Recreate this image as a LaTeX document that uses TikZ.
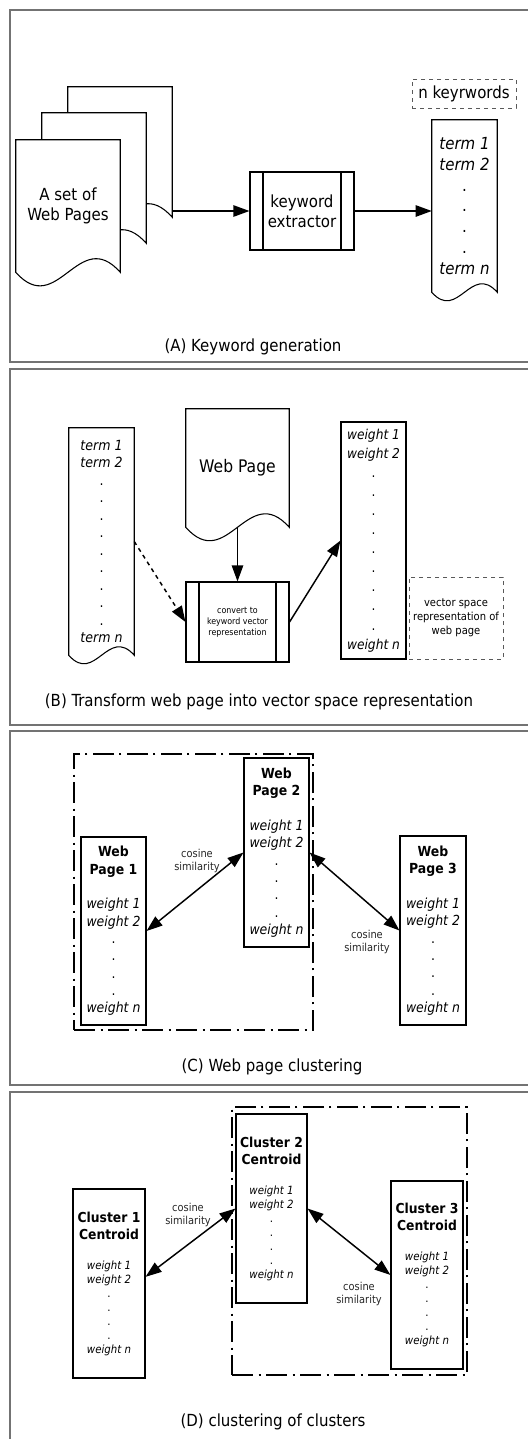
\documentclass[tikz,border=0pt]{standalone}
\usepackage{fontspec}
\setmainfont{DejaVu Sans Condensed}[BoldFont={DejaVu Sans Condensed Bold}, ItalicFont={DejaVu Sans Condensed Oblique}, BoldItalicFont={DejaVu Sans Condensed Bold Oblique}]
\usetikzlibrary{arrows.meta, calc, backgrounds}
\newcommand{\titlefont}{\fontsize{10.3}{12}\selectfont\bfseries}
% outline of a page with a wavy lower edge, drawn round a named node
\newcommand{\pagewave}[1]{%
  \draw[pageline] let \p1=(#1.south west), \p2=(#1.south east), \n1={0.45*(\x2-\x1)} in
    (#1.north west) -- (#1.north east) -- (\p2)
    .. controls ({\x2-0.4*(\x2-\x1)},{\y2+\n1*1pt}) and ({\x1+0.4*(\x2-\x1)},{\y1-\n1*1pt}) .. (\p1) -- cycle;}
\tikzset{
  panel/.style   ={draw=black!55, line width=1.2pt},
  pageline/.style={draw, fill=white, line width=0.8pt},
  pg/.style      ={inner sep=0pt, align=center},
  proc/.style    ={draw, line width=0.8pt, inner sep=0pt, align=center,
                   path picture={\draw[line width=0.8pt]
                     ([xshift=9.75pt]path picture bounding box.north west) -- ([xshift=9.75pt]path picture bounding box.south west)
                     ([xshift=-9.75pt]path picture bounding box.north east) -- ([xshift=-9.75pt]path picture bounding box.south east);}},
  vbox/.style    ={draw, line width=0.8pt, inner sep=0pt, align=center},
  note/.style    ={draw=black!65, dashed, line width=0.7pt, inner sep=0pt, align=center},
  grp/.style     ={draw, line width=1.1pt, dash pattern=on 16pt off 4pt on 1.5pt off 4pt},
  arr/.style     ={-{Triangle[length=12pt,width=8.5pt]}, line width=1.1pt},
  darr/.style    ={{Triangle[length=12pt,width=8.5pt]}-{Triangle[length=12pt,width=8.5pt]}, line width=1.1pt},
  capt/.style    ={font=\fontsize{12.5}{15}\selectfont},
  sim/.style     ={font=\fontsize{8.2}{9.8}\selectfont, align=center, text=black!85},
}

\begin{document}
\begin{tikzpicture}[x=0.75pt, y=-0.75pt]
  \useasboundingbox (0,0) rectangle (528,1439);
  % panel frames, open to the right
  \draw[panel] (528,10) -- (10,10) -- (10,362) -- (528,362);
  \draw[panel] (528,369) -- (10,369) -- (10,725) -- (528,725);
  \draw[panel] (528,731) -- (10,731) -- (10,1085) -- (528,1085);
  \draw[panel] (528,1092) -- (10,1092) -- (10,1445);

  % (A) keyword generation
  \node[pg, minimum width=78pt, minimum height=97.5pt] (pageC) at (120,152) {};
  \node[pg, minimum width=78pt, minimum height=97.5pt] (pageB) at (94,178) {};
  \node[pg, minimum width=78pt, minimum height=99pt, font=\fontsize{12.5}{15}\selectfont] (pageA) at (68,206) {A set of\\Web Pages};
  \node[proc, minimum width=78pt, minimum height=58.5pt, font=\fontsize{12.5}{15}\selectfont] (extractor) at (302,211) {keyword\\extractor};
  \node[pg, minimum width=48.75pt, minimum height=129pt, font=\fontsize{12.5}{15.6}\selectfont] (keyterms) at (464.5,206)
    {\textit{term 1}\\\textit{term 2}\\.\\.\\.\\.\\\textit{term n}};
  \node[note, minimum width=78pt, minimum height=21.75pt, font=\fontsize{12.5}{15}\selectfont] (nkw) at (464,93.5) {n keyrwords};
  \node[capt] (captA) at (253,347) {(A) Keyword generation};
  \draw[arr] (pageC.east |- extractor.west) -- (extractor.west);
  \draw[arr] (extractor.east) -- (keyterms.west |- extractor.east);

  % (B) vector space representation
  \node[pg, minimum width=48.75pt, minimum height=170.25pt, font=\fontsize{10.5}{13.1}\selectfont] (termsB) at (101.5,541.5)
    {\textit{term 1}\\\textit{term 2}\\.\\.\\.\\.\\.\\.\\.\\.\\.\\\textit{term n}};
  \node[pg, minimum width=77.25pt, minimum height=88.5pt, font=\fontsize{13}{15}\selectfont] (webpage) at (237.5,468) {Web Page};
  \node[proc, minimum width=77.25pt, minimum height=60pt, font=\fontsize{6.6}{8.2}\selectfont] (convert) at (237.5,622)
    {convert to\\keyword vector\\representation};
  \node[vbox, minimum width=48.75pt, minimum height=177.75pt, font=\fontsize{10.2}{14.3}\selectfont] (vecB) at (373.5,540.5)
    {\textit{weight 1}\\\textit{weight 2}\\.\\.\\.\\.\\.\\.\\.\\.\\.\\\textit{weight n}};
  \node[note, minimum width=70.5pt, minimum height=61.5pt, font=\fontsize{8.3}{10.5}\selectfont] (vsnote) at (456,618)
    {vector space\\representation of\\web page};
  \node[capt] (captB) at (259,702) {(B) Transform web page into vector space representation};
  \draw[arr] (webpage.south) -- (convert.north);
  \draw[arr, dashed] (termsB.east) -- (convert.west);
  \draw[arr] (convert.east) -- (vecB.west);

  % (C) web page clustering
  \node[grp, minimum width=179.25pt, minimum height=207pt] (grpC) at (193.5,892) {};
  \node[vbox, minimum width=48.75pt, minimum height=141pt, font=\fontsize{10.4}{13}\selectfont] (page1) at (113.5,931)
    {\textbf{Web}\\\textbf{Page 1}\\[13pt]\textit{weight 1}\\\textit{weight 2}\\.\\.\\.\\.\\\textit{weight n}};
  \node[vbox, minimum width=48.75pt, minimum height=141.75pt, font=\fontsize{10.4}{13}\selectfont] (page2) at (276.5,852.5)
    {\textbf{Web}\\\textbf{Page 2}\\[13pt]\textit{weight 1}\\\textit{weight 2}\\.\\.\\.\\.\\\textit{weight n}};
  \node[vbox, minimum width=49.5pt, minimum height=141.75pt, font=\fontsize{10.4}{13}\selectfont] (page3) at (433,930.5)
    {\textbf{Web}\\\textbf{Page 3}\\[13pt]\textit{weight 1}\\\textit{weight 2}\\.\\.\\.\\.\\\textit{weight n}};
  \node[sim] (simC1) at (197,861) {cosine\\similarity};
  \node[sim] (simC2) at (367,942) {cosine\\similarity};
  \node[capt] (captC) at (272,1067) {(C) Web page clustering};
  \draw[darr] (page1.east) -- (page2.west);
  \draw[darr] (page2.east) -- (page3.west);

  % (D) clustering of clusters
  \node[grp, minimum width=176.25pt, minimum height=201pt] (grpD) at (349.5,1241) {};
  \node[vbox, minimum width=54pt, minimum height=141.75pt, font=\fontsize{8.5}{10.5}\selectfont] (clu1) at (109,1283.5)
    {{\titlefont Cluster 1}\\[2.25pt]{\titlefont Centroid}\\[12pt]\textit{weight 1}\\\textit{weight 2}\\.\\.\\.\\.\\\textit{weight n}};
  \node[vbox, minimum width=53.25pt, minimum height=141.75pt, font=\fontsize{8.5}{10.5}\selectfont] (clu2) at (271.5,1208.5)
    {{\titlefont Cluster 2}\\[2.25pt]{\titlefont Centroid}\\[12pt]\textit{weight 1}\\\textit{weight 2}\\.\\.\\.\\.\\\textit{weight n}};
  \node[vbox, minimum width=54pt, minimum height=141pt, font=\fontsize{8.5}{10.5}\selectfont] (clu3) at (427,1275)
    {{\titlefont Cluster 3}\\[2.25pt]{\titlefont Centroid}\\[12pt]\textit{weight 1}\\\textit{weight 2}\\.\\.\\.\\.\\\textit{weight n}};
  \node[sim] (simD1) at (188,1215) {cosine\\similarity};
  \node[sim] (simD2) at (359,1294) {cosine\\similarity};
  \node[capt] (captD) at (273,1422) {(D) clustering of clusters};
  \draw[darr] ([yshift=5pt]clu1.east) -- (clu2.west);
  \draw[darr] (clu2.east) -- (clu3.west);

  \begin{pgfonlayer}{background}
    \pagewave{pageC}
    \pagewave{pageB}
    \pagewave{pageA}
    \pagewave{keyterms}
    \pagewave{termsB}
    \pagewave{webpage}
  \end{pgfonlayer}
\end{tikzpicture}
\end{document}
